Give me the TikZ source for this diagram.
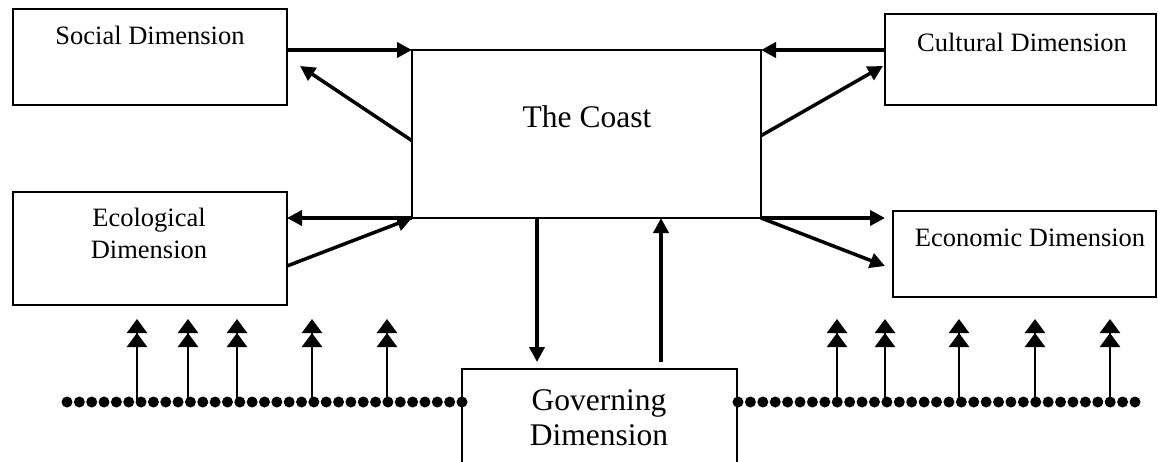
\documentclass[tikz,border=0pt]{standalone}
\usepackage{fontspec}
\setmainfont{Liberation Serif}
\usetikzlibrary{arrows.meta,calc}

\tikzset{
  box/.style={draw, line width=2pt, rectangle, inner sep=0pt, outer sep=0pt, anchor=north west},
  lbl/.style={anchor=base, inner sep=0pt, font=\fontsize{26.5}{32}\selectfont},
  biglbl/.style={anchor=base, inner sep=0pt, font=\fontsize{31.5}{36}\selectfont},
  flow/.style={line width=4pt, -{Triangle[length=15pt,width=15pt]}},
  slant/.style={line width=3.5pt, -{Triangle[length=15pt,width=15pt]}},
  rise/.style={line width=2.5pt, -{Triangle[length=14pt,width=20pt] Triangle[length=14pt,width=20pt,sep=-3pt]}},
  bead/.style={fill=black}
}

\begin{document}
\begin{tikzpicture}[x=1pt,y=-1pt]
\useasboundingbox (0,0) rectangle (1158,461);

% boxes
\node[box, minimum width=274pt, minimum height=96pt]  (social)     at (13,9)    {};
\node[box, minimum width=271pt, minimum height=91pt]  (cultural)   at (885,14)  {};
\node[box, minimum width=274pt, minimum height=113pt] (ecological) at (13,192)  {};
\node[box, minimum width=263pt, minimum height=86pt]  (economic)   at (893,211) {};
\node[box, minimum width=349pt, minimum height=168pt] (coast)      at (412,50)  {};
\node[box, minimum width=275pt, minimum height=110pt] (governing)  at (462,369) {};

% labels
\node[lbl] (tsocial)   at (150,44)  {Social Dimension};
\node[lbl] (tcultural) at (1022,51) {Cultural Dimension};
\node[lbl] (teco1)     at (149,226) {Ecological};
\node[lbl] (teco2)     at (149,258) {Dimension};
\node[lbl] (teconomic) at (1030,246) {Economic Dimension};
\node[biglbl] (tcoast) at (587,127) {The Coast};
\node[biglbl] (tgov1)  at (599,410) {Governing};
\node[biglbl] (tgov2)  at (599,445) {Dimension};

% links between the coast and the dimensions
\draw[flow]  (social.east |- coast.north west) -- (coast.north west);
\draw[slant] ($(coast.north west)!0.54!(coast.south west)$) -- ($(social.north east)+(13,57)$);
\draw[flow]  (cultural.west |- coast.north east) -- (coast.north east);
\draw[slant] ($(coast.north east)!0.51!(coast.south east)$) -- ($(cultural.north west)+(-2,52)$);
\draw[flow]  (coast.south west) -- (ecological.east |- coast.south west);
\draw[slant] ($(ecological.north east)+(0,74)$) -- (coast.south west);
\draw[flow]  (coast.south east) -- ($(economic.west |- coast.south east)+(-8,0)$);
\draw[slant] (coast.south east) -- ($(economic.north west)+(-8,55)$);
\draw[flow]  ($(coast.south west)+(125,0)$) -- ($(governing.north west)+(75,-7)$);
\draw[flow]  ($(governing.north west)+(199,-7)$) -- ($(coast.south west)+(249,0)$);

% chains of beads on both sides of the governing box
\coordinate (lstart) at (67,402);
\coordinate (lend)   at (governing.north west |- lstart);
\coordinate (rstart) at ($(governing.north east |- lstart)+(1,0)$);
\coordinate (rend)   at (1135,402);
\foreach \i in {0,...,32} {
  \fill[bead] ($(lstart)!\i/32!(lend)$) circle (5.5);
  \fill[bead] ($(rstart)!\i/32!(rend)$) circle (5.5);
}

% upward arrows rising from the chains
\foreach \x in {137,188,237,312,387,837,885,959,1035,1110} {
  \coordinate (b\x) at (\x,402);
  \coordinate (t\x) at (\x,322);
  \draw[rise] (b\x) -- (t\x);
}
\end{tikzpicture}
\end{document}
